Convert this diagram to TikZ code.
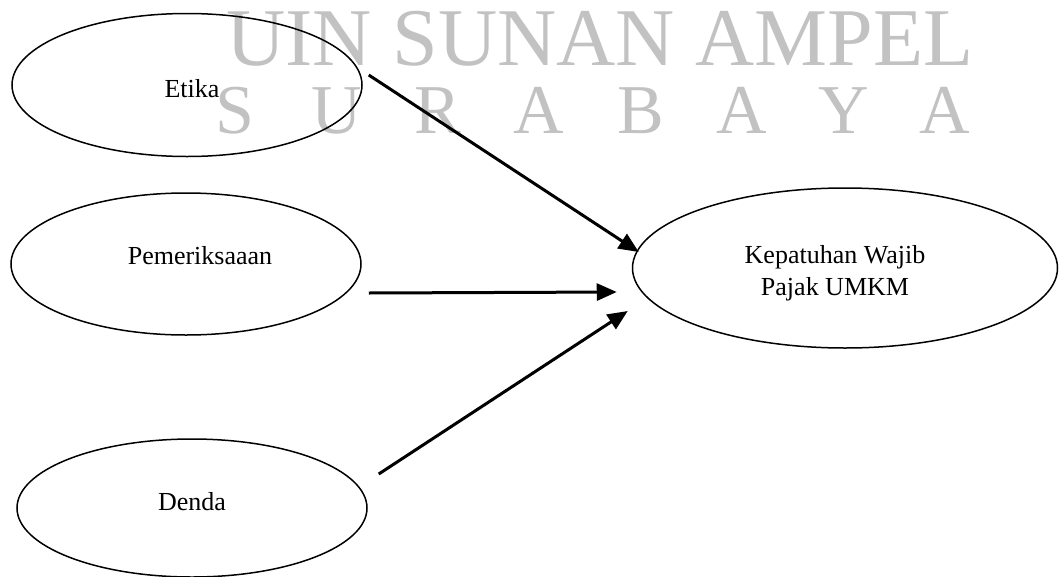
\documentclass[tikz,border=0pt]{standalone}
\usepackage{fontspec}
\setmainfont{Liberation Serif}
\usetikzlibrary{shapes.geometric,arrows.meta}
\tikzset{
  oval/.style={draw=black,line width=1.5pt,ellipse,inner sep=0pt},
  lbl/.style={inner sep=0pt,font=\fontsize{26}{31.5}\selectfont},
  arr/.style={line width=3pt,-{Triangle[length=20pt,width=17pt]}},
  wm/.style={inner sep=0pt,text=black!24,anchor=base}
}
\begin{document}
\begin{tikzpicture}[x=1pt,y=-1pt]
\useasboundingbox (0,0) rectangle (1060,576);
% watermark
\node[wm,font=\fontsize{82}{90}\selectfont] (wm1) at (600,65) {UIN SUNAN AMPEL};
\node[wm,font=\fontsize{70}{80}\selectfont] (wm2) at (590,133)
  {\makebox[101.4pt]{S}\makebox[101.4pt]{U}\makebox[101.4pt]{R}\makebox[101.4pt]{A}\makebox[101.4pt]{B}\makebox[101.4pt]{A}\makebox[101.4pt]{Y}\makebox[101.4pt]{A}};
% ellipses
\node[oval,minimum width=350pt,minimum height=143pt] (etika) at (187,85) {};
\node[oval,minimum width=350pt,minimum height=142pt] (pem) at (186,264) {};
\node[oval,minimum width=350pt,minimum height=138pt] (denda) at (192,508) {};
\node[oval,minimum width=425pt,minimum height=160pt] (kep) at (845,268) {};
% labels
\node[lbl,anchor=base] (tetika) at (192,97) {Etika};
\node[lbl,anchor=base] (tpem) at (200,264) {Pemeriksaaan};
\node[lbl,anchor=base] (tdenda) at (192,510) {Denda};
\node[lbl,align=center] (tkep) at (835,273) {Kepatuhan Wajib\\Pajak UMKM};
% arrows
\draw[arr] ([xshift=6pt,yshift=10pt]etika.east) -- ([xshift=7pt,yshift=16pt]kep.west);
\draw[arr] ([xshift=7pt,yshift=-29pt]pem.east) -- ([xshift=-15pt,yshift=-24pt]kep.west);
\draw[arr] ([xshift=11pt,yshift=34pt]denda.east) -- ([xshift=-4pt,yshift=-43pt]kep.west);
\end{tikzpicture}
\end{document}
